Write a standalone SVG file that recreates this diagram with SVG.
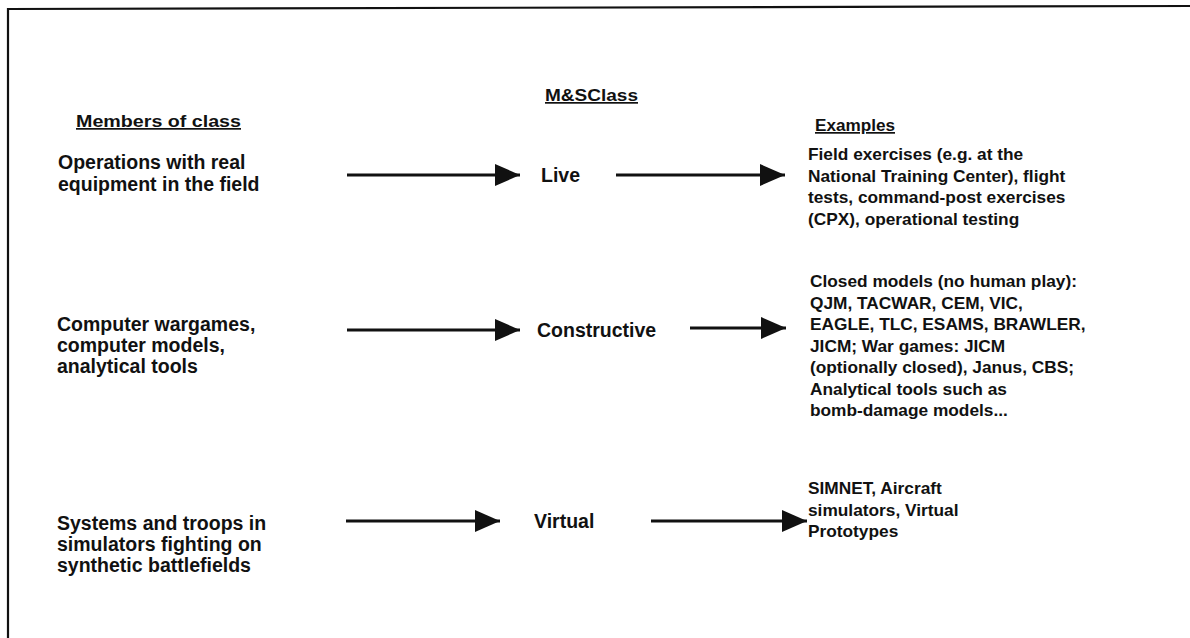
<svg xmlns="http://www.w3.org/2000/svg" width="1190" height="638" viewBox="0 0 1190 638">
<style>
text{font-family:"Liberation Sans",Arial,sans-serif;font-weight:bold;fill:#111}
.l{font-size:19.5px}
.r{font-size:17.3px}
.h{font-size:17px;text-decoration:underline}
.c{stroke:#111;stroke-width:3;fill:none}
</style>
<defs>
<marker id="ah" markerUnits="userSpaceOnUse" markerWidth="26" markerHeight="24" refX="25" refY="11" orient="auto">
<path d="M0,0 L25,11 L0,22 Z" fill="#111"/>
</marker>
</defs>
<rect width="1190" height="638" fill="#fff"/>
<g id="frame" stroke="#111" stroke-width="2.2" fill="none">
<path d="M8,9 L1190,6"/>
<path d="M8,8 L8,638"/>
</g>
<g id="headers">
<text class="h" x="545" y="101" textLength="93" lengthAdjust="spacingAndGlyphs">M&amp;SClass</text>
<text class="h" x="76" y="127" textLength="165" lengthAdjust="spacingAndGlyphs">Members of class</text>
<text class="h" x="815" y="131" textLength="80" lengthAdjust="spacingAndGlyphs">Examples</text>
</g>
<g id="member-live">
<text class="l" x="58" y="169">Operations with real</text>
<text class="l" x="58" y="191">equipment in the field</text>
</g>
<g id="class-live"><text class="l" x="541" y="182">Live</text></g>
<g id="examples-live">
<text class="r" x="808" y="160">Field exercises (e.g. at the</text>
<text class="r" x="808" y="181.5">National Training Center), flight</text>
<text class="r" x="808" y="203">tests, command-post exercises</text>
<text class="r" x="808" y="224.5">(CPX), operational testing</text>
</g>
<g id="member-constructive">
<text class="l" x="57" y="331">Computer wargames,</text>
<text class="l" x="57" y="352">computer models,</text>
<text class="l" x="57" y="373">analytical tools</text>
</g>
<g id="class-constructive"><text class="l" x="537" y="337">Constructive</text></g>
<g id="examples-constructive">
<text class="r" x="810" y="287">Closed models (no human play):</text>
<text class="r" x="810" y="308.5">QJM, TACWAR, CEM, VIC,</text>
<text class="r" x="810" y="330">EAGLE, TLC, ESAMS, BRAWLER,</text>
<text class="r" x="810" y="351.5">JICM; War games: JICM</text>
<text class="r" x="810" y="373">(optionally closed), Janus, CBS;</text>
<text class="r" x="810" y="394.5">Analytical tools such as</text>
<text class="r" x="810" y="416">bomb-damage models...</text>
</g>
<g id="member-virtual">
<text class="l" x="57" y="530">Systems and troops in</text>
<text class="l" x="57" y="551">simulators fighting on</text>
<text class="l" x="57" y="572">synthetic battlefields</text>
</g>
<g id="class-virtual"><text class="l" x="534" y="528">Virtual</text></g>
<g id="examples-virtual">
<text class="r" x="808" y="494">SIMNET, Aircraft</text>
<text class="r" x="808" y="515.5">simulators, Virtual</text>
<text class="r" x="808" y="537">Prototypes</text>
</g>
<g id="connectors" class="c">
<line x1="347" y1="175" x2="520" y2="175" marker-end="url(#ah)"/>
<line x1="616" y1="175" x2="785" y2="175" marker-end="url(#ah)"/>
<line x1="347" y1="330" x2="520" y2="330" marker-end="url(#ah)"/>
<line x1="690" y1="328" x2="786" y2="328" marker-end="url(#ah)"/>
<line x1="346" y1="521" x2="500" y2="521" marker-end="url(#ah)"/>
<line x1="651" y1="521" x2="807" y2="521" marker-end="url(#ah)"/>
</g>
</svg>
